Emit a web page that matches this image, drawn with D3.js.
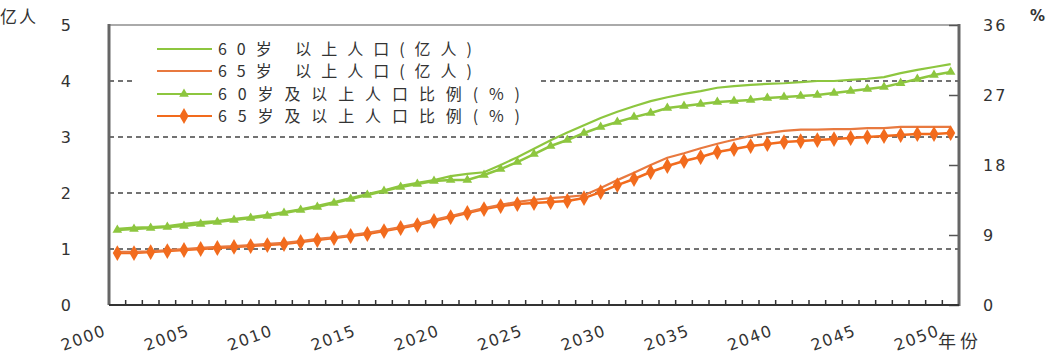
<!DOCTYPE html>
<html><head><meta charset="utf-8">
<script src="https://cdn.jsdelivr.net/npm/d3@7"></script>
<style>
html,body{margin:0;padding:0;background:#fff;}
svg{display:block;}
text{fill:#333;}
</style></head>
<body>
<svg id="c" width="1064" height="360"></svg>
<script>
const years = d3.range(2000, 2051);
// 60岁以上人口（亿人）
const pop60 = [1.36,1.38,1.39,1.41,1.45,1.48,1.50,1.54,1.57,1.61,1.66,1.71,1.77,1.84,1.91,1.98,2.05,2.13,2.18,2.23,2.30,2.34,2.37,2.50,2.64,2.79,2.94,3.08,3.21,3.34,3.45,3.55,3.64,3.71,3.77,3.82,3.88,3.91,3.93,3.95,3.96,3.98,4.00,4.00,4.02,4.04,4.07,4.14,4.20,4.25,4.30];
// 65岁以上人口（亿人）
const pop65 = [0.95,0.95,0.96,0.98,1.00,1.02,1.04,1.05,1.07,1.09,1.11,1.14,1.18,1.21,1.25,1.29,1.34,1.39,1.45,1.52,1.59,1.66,1.73,1.79,1.84,1.88,1.91,1.93,1.96,2.09,2.23,2.36,2.50,2.63,2.71,2.80,2.88,2.95,3.02,3.07,3.11,3.13,3.13,3.14,3.14,3.16,3.16,3.18,3.18,3.18,3.18];
// 60岁及以上人口比例（%）
const pct60 = [9.64,9.77,9.90,10.03,10.15,10.41,10.67,10.93,11.18,11.44,11.83,12.21,12.60,13.11,13.62,14.14,14.65,15.17,15.55,15.94,16.07,16.07,16.71,17.48,18.38,19.41,20.44,21.21,22.11,22.88,23.52,24.16,24.68,25.32,25.58,25.84,26.09,26.22,26.35,26.61,26.74,26.86,26.99,27.25,27.51,27.76,28.02,28.53,29.05,29.56,29.95];
// 65岁及以上人口比例（%）
const pct65 = [6.68,6.68,6.81,6.94,7.07,7.20,7.33,7.46,7.58,7.71,7.84,8.10,8.35,8.61,8.87,9.13,9.51,9.90,10.28,10.80,11.31,11.83,12.34,12.72,12.98,13.11,13.24,13.37,13.75,14.52,15.42,16.20,17.10,17.87,18.51,19.02,19.67,20.05,20.44,20.69,20.95,21.08,21.21,21.34,21.47,21.59,21.72,21.85,21.98,21.98,22.11];
const leftTicks = [0,1,2,3,4,5];
const rightTicks = [0,9,18,27,36];
const gridValues = [1,2,3,4];
const xLabelYears = [2000,2005,2010,2015,2020,2025,2030,2035,2040,2045,2050];
const legendLabels = ["60岁 以上人口(亿人)","65岁 以上人口(亿人)","60岁及以上人口比例(%)","65岁及以上人口比例(%)"];

const GREEN = "#8dc63f", ORANGE = "#f26b1d", ORANGE_L = "#e8793f";
const svg = d3.select("#c");
const L = 109, R = 959, T = 25, B = 305;
const x = d3.scaleBand().domain(years).range([L, R]);
const cx = d => x(d) + x.bandwidth()/2;
const yL = d3.scaleLinear().domain([0,5]).range([B,T]);
const yR = d3.scaleLinear().domain([0,36]).range([B,T]);

// gridlines
svg.append("g").selectAll("line").data(gridValues).join("line")
  .attr("x1", L).attr("x2", R).attr("y1", d=>yL(d)).attr("y2", d=>yL(d))
  .attr("stroke", "#444").attr("stroke-width", 1.3).attr("stroke-dasharray", "5,4");

// legend background
svg.append("rect").attr("x",136).attr("y",35).attr("width",404).attr("height",93).attr("fill","#fff");

// top border
svg.append("line").attr("x1",L).attr("x2",R).attr("y1",T).attr("y2",T).attr("stroke","#aaa").attr("stroke-width",2);

// left axis
const gl = svg.append("g").attr("transform",`translate(${L},0)`)
  .call(d3.axisLeft(yL).tickValues(leftTicks).tickSize(0).tickPadding(38).tickFormat(d3.format("d")));
gl.select(".domain").remove();
gl.selectAll("text").attr("font-family","DejaVu Sans").attr("font-size",16).attr("fill","#333").attr("dy","0.35em");
svg.append("line").attr("x1",L).attr("x2",L).attr("y1",T-1).attr("y2",B).attr("stroke","#666").attr("stroke-width",3);

// right axis
const gr = svg.append("g").attr("transform",`translate(${R},0)`)
  .call(d3.axisRight(yR).tickValues(rightTicks).tickSize(-10).tickPadding(24).tickFormat(d3.format("d")));
gr.select(".domain").remove();
gr.selectAll("line").attr("stroke","#555").attr("stroke-width",1.5);
gr.selectAll("text").attr("font-family","DejaVu Sans").attr("font-size",16).attr("fill","#333").attr("dy","0.35em").attr("letter-spacing",2);
svg.append("line").attr("x1",R).attr("x2",R).attr("y1",T-1).attr("y2",B+1).attr("stroke","#666").attr("stroke-width",3);

// bottom axis
svg.append("g").selectAll("line").data(years.slice(1)).join("line")
  .attr("x1", d=>x(d)).attr("x2", d=>x(d)).attr("y1", B).attr("y2", B-5)
  .attr("stroke","#333").attr("stroke-width",1.5);
svg.append("line").attr("x1",L).attr("x2",R).attr("y1",B).attr("y2",B).attr("stroke","#333").attr("stroke-width",2);
svg.append("g").selectAll("text").data(xLabelYears).join("text")
  .attr("transform", d=>`translate(${cx(d)-10},335) rotate(-20)`)
  .attr("text-anchor","end").attr("font-family","DejaVu Sans").attr("font-size",16).attr("letter-spacing",1.5)
  .text(d=>d);
svg.append("text").attr("x",938).attr("y",348).attr("font-family","Noto Sans CJK SC").attr("font-size",18).attr("letter-spacing",4).text("年份");

// unit labels
svg.append("text").attr("x",0).attr("y",23).attr("font-family","Noto Sans CJK SC").attr("font-size",17).attr("letter-spacing",2).text("亿人");
svg.append("text").attr("x",1030).attr("y",21).attr("font-family","DejaVu Sans").attr("font-size",15).attr("font-weight","bold").text("%");

// lines
const lineL = d3.line().x((d,i)=>cx(years[i])).y(d=>yL(d));
const lineR = d3.line().x((d,i)=>cx(years[i])).y(d=>yR(d));
svg.append("path").datum(pct60).attr("d",lineR).attr("fill","none").attr("stroke",GREEN).attr("stroke-width",2.5);
svg.append("path").datum(pct65).attr("d",lineR).attr("fill","none").attr("stroke",ORANGE).attr("stroke-width",2.5);
svg.append("path").datum(pop60).attr("d",lineL).attr("fill","none").attr("stroke",GREEN).attr("stroke-width",2.2);
svg.append("path").datum(pop65).attr("d",lineL).attr("fill","none").attr("stroke",ORANGE_L).attr("stroke-width",2.2);

const tri = d3.symbol().type(d3.symbolTriangle).size(40);
const dia = d3.symbol().type(d3.symbolDiamond).size(72);
svg.append("g").selectAll("path").data(pct60).join("path")
  .attr("transform",(d,i)=>`translate(${cx(years[i])},${yR(d)})`).attr("d",tri).attr("fill",GREEN);
svg.append("g").selectAll("path").data(pct65).join("path")
  .attr("transform",(d,i)=>`translate(${cx(years[i])},${yR(d)})`).attr("d",dia).attr("fill",ORANGE);

// legend
const legY = [49,71,94,116];
const legColor = [GREEN, ORANGE_L, GREEN, ORANGE];
const legLen = [254,254,302,302];
const lg = svg.append("g");
legendLabels.forEach((t,i)=>{
  lg.append("line").attr("x1",157).attr("x2",212).attr("y1",legY[i]).attr("y2",legY[i]).attr("stroke",legColor[i]).attr("stroke-width",2.2);
  if(i===2) lg.append("path").attr("transform",`translate(184,${legY[i]})`).attr("d",tri).attr("fill",GREEN);
  if(i===3) lg.append("path").attr("transform",`translate(184,${legY[i]})`).attr("d",dia).attr("fill",ORANGE);
  lg.append("text").attr("x",218).attr("y",legY[i]+6).attr("font-family","Noto Sans CJK SC").attr("font-size",16)
    .attr("textLength",legLen[i]).attr("lengthAdjust","spacing").text(t);
});
</script>
</body></html>
